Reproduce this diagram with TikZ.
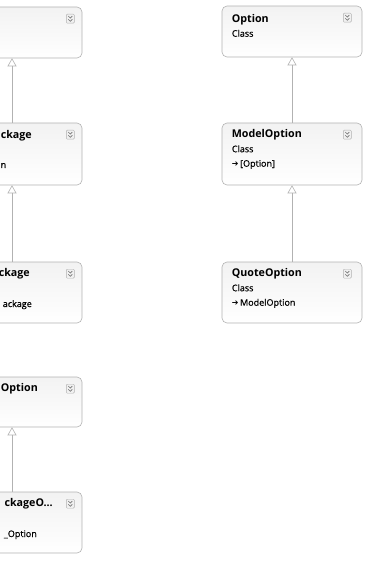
\documentclass[tikz,border=0pt]{standalone}
\usepackage{fontspec}
\setmainfont{Open Sans}
\newfontfamily\subfont{Open Sans}[FakeBold=0.6]
\newfontfamily\symfont{DejaVu Sans}
\usetikzlibrary{arrows.meta,calc}

\tikzset{
  classbox/.style={draw=black!30, line width=0.6pt, rounded corners=5pt,
    top color=black!5, bottom color=white, inner sep=0pt,
    minimum width=140pt},
  ctitle/.style={inner sep=0pt, font=\fontsize{10.7}{12}\selectfont\bfseries},
  ctext/.style={inner sep=0pt, font=\fontsize{9}{11}\selectfont\subfont},
  gen/.style={draw=black!30, line width=0.6pt,
    -{Triangle[open, width=9pt, length=8pt, line width=0.6pt]}},
  expander/.pic={
    \draw[black!30, fill=black!6, line width=0.4pt, rounded corners=1pt]
      (-4,-4.5) rectangle (4,4.5);
    \draw[black!55, line width=0.6pt] (-2,-2.6) -- (0,-0.6) -- (2,-2.6);
    \draw[black!55, line width=0.6pt] (-2,0.6) -- (0,2.6) -- (2,0.6);
  }
}

% heavy arrow in front of the base class name
\newcommand{\arr}{{\symfont\fontsize{8}{10}\selectfont ➔}\,}

\begin{document}
\begin{tikzpicture}[x=1pt, y=-1pt]
  \useasboundingbox (0,0) rectangle (365,561);
  \clip (0,0) rectangle (365,561);

  % right column: Option <- ModelOption <- QuoteOption
  \node[classbox, minimum height=51pt] (r1) at (292,31.5) {};
  \node[classbox, minimum height=62pt] (r2) at (292,154) {};
  \node[classbox, minimum height=61pt] (r3) at (292,292.5) {};

  \node[ctitle, anchor=base west] (r1t) at ($(r1.north west)+(10,16.5)$) {Option};
  \node[ctext, anchor=base west]  (r1c) at ($(r1.north west)+(10,31)$) {Class};

  \node[ctitle, anchor=base west] (r2t) at ($(r2.north west)+(10,14.5)$) {ModelOption};
  \node[ctext, anchor=base west]  (r2c) at ($(r2.north west)+(10,29.5)$) {Class};
  \node[ctext, anchor=base west]  (r2b) at ($(r2.north west)+(10,44)$) {\arr[Option]};

  \node[ctitle, anchor=base west] (r3t) at ($(r3.north west)+(10,14.5)$) {QuoteOption};
  \node[ctext, anchor=base west]  (r3c) at ($(r3.north west)+(10,29.5)$) {Class};
  \node[ctext, anchor=base west]  (r3b) at ($(r3.north west)+(10,44)$) {\arr ModelOption};

  \pic at ($(r1.north east)+(-15,12)$) {expander};
  \pic at ($(r2.north east)+(-15,12)$) {expander};
  \pic at ($(r3.north east)+(-15,12)$) {expander};

  \draw[gen] (r2.north) -- (r1.south);
  \draw[gen] (r3.north) -- (r2.south);

  % left column, cut by the left edge
  \node[classbox, minimum height=51pt] (l1) at (12,32.5) {};
  \node[classbox, minimum height=62pt] (l2) at (12,154) {};
  \node[classbox, minimum height=61pt] (l3) at (12,292.5) {};
  \node[classbox, minimum height=50pt] (l4) at (12,402) {};
  \node[classbox, minimum height=61pt] (l5) at (12,522.5) {};

  \node[ctitle, anchor=base east] (l2t) at (32,138.5) {ckage};
  \node[ctext, anchor=base west]  (l2b) at (0.5,168) {n};
  \node[ctitle, anchor=base east] (l3t) at (30,276.5) {ckage};
  \node[ctext, anchor=base east]  (l3b) at (32,307) {ackage};
  \node[ctitle, anchor=base east] (l4t) at (38,391.5) {Option};
  \node[ctitle, anchor=base east] (l5t) at (53,506.5) {ckageO...};
  \node[ctext, anchor=base east]  (l5b) at (37,537) {\_Option};

  \pic at ($(l1.north east)+(-12,12)$) {expander};
  \pic at ($(l2.north east)+(-12,12)$) {expander};
  \pic at ($(l3.north east)+(-12,12)$) {expander};
  \pic at ($(l4.north east)+(-12,12)$) {expander};
  \pic at ($(l5.north east)+(-12,12)$) {expander};

  \draw[gen] (l2.north) -- (l1.south);
  \draw[gen] (l3.north) -- (l2.south);
  \draw[gen] (l5.north) -- (l4.south);
\end{tikzpicture}
\end{document}
